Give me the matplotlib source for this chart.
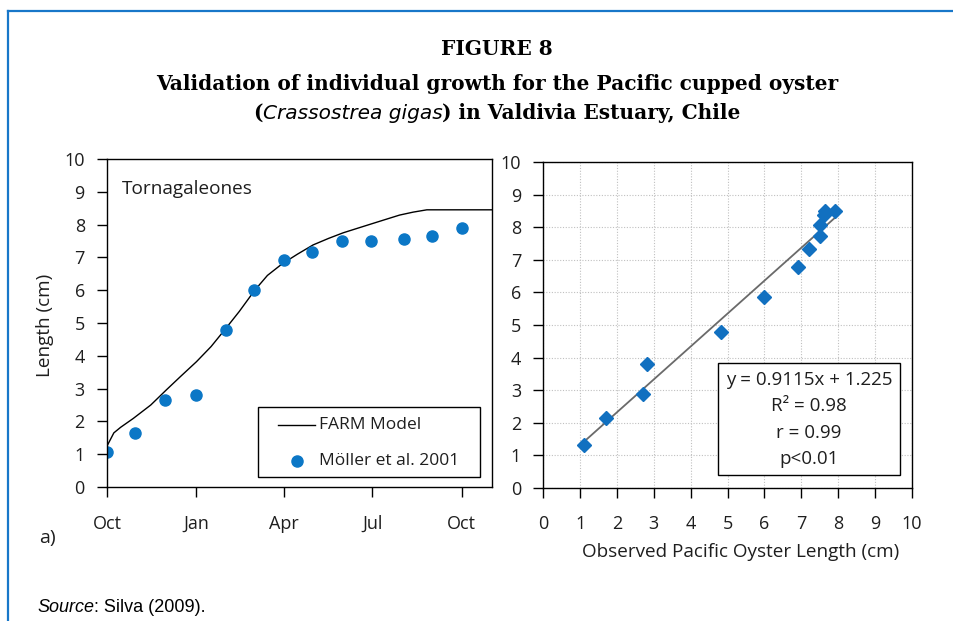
import matplotlib

matplotlib.use("Agg")
import matplotlib.pyplot as plt
import numpy as np
from matplotlib.lines import Line2D
from matplotlib.patches import Rectangle

# left panel: FARM model curve, days since 1 October vs length (cm)
model_days = [0, 7, 14, 27, 45, 61, 76, 92, 107, 121, 136, 152, 165, 180,
              196, 212, 228, 243, 259, 274, 288, 301, 315, 329, 396]
model_len = [1.25, 1.65, 1.82, 2.09, 2.50, 2.96, 3.38, 3.82, 4.28, 4.79, 5.35,
             6.00, 6.45, 6.80, 7.10, 7.38, 7.58, 7.75, 7.90, 8.04, 8.17, 8.29,
             8.38, 8.45, 8.45]

# Moller et al. 2001 field samples
obs_days = [0, 29, 60, 92, 122, 151, 182, 211, 242, 272, 305, 334, 365]
obs_len = [1.08, 1.64, 2.65, 2.79, 4.79, 6.00, 6.92, 7.16, 7.50, 7.50, 7.57, 7.65, 7.90]

month_ticks = [0, 92, 182, 273, 365]
month_labels = ["Oct", "Jan", "Apr", "Jul", "Oct"]

# right panel: observed vs modelled length (cm)
val_obs = [1.10, 1.70, 2.71, 2.82, 4.82, 6.00, 6.92, 7.20, 7.52, 7.50, 7.61, 7.64, 7.93]
val_model = [1.31, 2.13, 2.87, 3.80, 4.80, 5.86, 6.77, 7.34, 7.74, 8.08, 8.39, 8.50, 8.50]
fit_text = ["y = 0.9115x + 1.225", "R\u00b2 = 0.98", "r = 0.99", "p<0.01"]
legend_labels = ["FARM Model", "M\u00f6ller et al. 2001"]

BLUE = "#0b77c6"
TXT = "#1e1e1e"
SANS = "Open Sans"


def _place_runs(fig, x, y, runs, align="center"):
    """Put text pieces with different styles side by side on one line."""
    renderer = fig.canvas.get_renderer()
    texts = [fig.text(0, y, s, ha="left", va="center", **style) for s, style in runs]
    widths = [t.get_window_extent(renderer).width for t in texts]
    W = fig.bbox.width
    start = x * W - (sum(widths) / 2 if align == "center" else 0)
    for t, w in zip(texts, widths):
        t.set_x(start / W)
        start += w


def _style_axes(ax, xpad, ypad):
    for sp in ax.spines.values():
        sp.set_linewidth(1.0)
        sp.set_color("black")
    ax.tick_params(direction="out", length=7, width=1.0, colors="black",
                   labelcolor=TXT, labelsize=13)
    ax.tick_params(axis="x", pad=xpad)
    ax.tick_params(axis="y", pad=ypad)
    for lab in ax.get_xticklabels() + ax.get_yticklabels():
        lab.set_family(SANS)


fig = plt.figure(figsize=(9.54, 6.21), dpi=100)

# ---- left panel
ax1 = fig.add_axes([0.1122, 0.2158, 0.4035, 0.5282])
ax1.plot(model_days, model_len, color="black", lw=1.0)
ax1.plot(obs_days, obs_len, ls="none", marker="o", ms=8, color=BLUE, mec=BLUE)
ax1.set_xlim(0, 396)
ax1.set_ylim(0, 10)
ax1.set_xticks(month_ticks)
ax1.set_xticklabels(month_labels)
ax1.set_yticks(range(0, 11))
_style_axes(ax1, xpad=13, ypad=9)
ax1.text(0.039, 0.909, "Tornagaleones", transform=ax1.transAxes, fontsize=13.7,
         family=SANS, color=TXT, ha="left", va="center")

# legend box drawn by hand: wide side padding, tight top and bottom
ax1.add_patch(Rectangle((0.392, 0.0305), 0.577, 0.2135, transform=ax1.transAxes,
                        facecolor="white", edgecolor="black", lw=1.0, zorder=4))
ax1.add_line(Line2D([0.444, 0.540], [0.189, 0.189], color="black", lw=1.0,
                    transform=ax1.transAxes, zorder=5))
ax1.add_line(Line2D([0.4935], [0.0793], ls="none", marker="o", ms=8, color=BLUE,
                    mec=BLUE, transform=ax1.transAxes, zorder=5))
for yy, lab in zip([0.189, 0.0793], legend_labels):
    ax1.text(0.551, yy, lab, transform=ax1.transAxes, fontsize=12.5, family=SANS,
             color=TXT, ha="left", va="center", zorder=5)

# ---- right panel
ax2 = fig.add_axes([0.5695, 0.2147, 0.3862, 0.5239])
ax2.grid(True, color="#c0c0c0", ls=(0, (1, 1.5)), lw=0.8)
ax2.set_axisbelow(True)
coef = np.polyfit(val_obs, val_model, 1)
xs = np.array([min(val_obs), max(val_obs)])
ax2.plot(xs, np.polyval(coef, xs), color="#6a6a6a", lw=1.3, zorder=2)
ax2.plot(val_obs, val_model, ls="none", marker="D", ms=7.5, color="#1170c0",
         mec="#1170c0", zorder=3)
ax2.set_xlim(0, 10)
ax2.set_ylim(0, 10)
ax2.set_xticks(range(0, 11))
ax2.set_yticks(range(0, 11))
_style_axes(ax2, xpad=13, ypad=9)

ax2.add_patch(Rectangle((0.474, 0.039), 0.494, 0.344, transform=ax2.transAxes,
                        facecolor="white", edgecolor="black", lw=1.0, zorder=4))
for i, line in enumerate(fit_text):
    ax2.text(0.721, 0.330 - i * 0.0805, line, transform=ax2.transAxes,
             fontsize=13.5, family=SANS, color=TXT, ha="center", va="center",
             zorder=5)

# ---- figure texts
fig.text(0.047, 0.4767, "Length (cm)", rotation=90, fontsize=13.6, family=SANS,
         color=TXT, ha="center", va="center")
fig.text(0.776, 0.111, "Observed Pacific Oyster Length (cm)", fontsize=13.6,
         family=SANS, color=TXT, ha="center", va="center")
fig.text(0.050, 0.1337, "a)", fontsize=14, family=SANS, color=TXT,
         ha="center", va="center")

title_kw = {"family": "DejaVu Serif", "weight": "bold", "color": "black"}
fig.text(0.521, 0.921, "FIGURE 8", fontsize=14.5, ha="center", va="center", **title_kw)
fig.text(0.521, 0.8647, "Validation of individual growth for the Pacific cupped oyster",
         fontsize=14.5, ha="center", va="center", **title_kw)
_place_runs(fig, 0.521, 0.818, [
    ("(", dict(fontsize=14.5, **title_kw)),
    ("Crassostrea gigas", dict(fontsize=14.5, family="DejaVu Sans", style="italic",
                               color="black")),
    (") in Valdivia Estuary, Chile", dict(fontsize=14.5, **title_kw)),
])

_place_runs(fig, 37 / 954, 1 - 607 / 621, [
    ("Source", dict(fontsize=13, family="Liberation Sans", style="italic", color="black")),
    (": Silva (2009).", dict(fontsize=13, family="Liberation Sans", color="black")),
], align="left")

# blue frame around the figure
frame_kw = dict(color="#1877c9", lw=1.6, transform=fig.transFigure)
fig.add_artist(Line2D([8.5 / 954, 1], [1 - 10.5 / 621] * 2, **frame_kw))
fig.add_artist(Line2D([8.5 / 954] * 2, [0, 1 - 10.5 / 621], **frame_kw))

fig.savefig("out.png", dpi=100)
